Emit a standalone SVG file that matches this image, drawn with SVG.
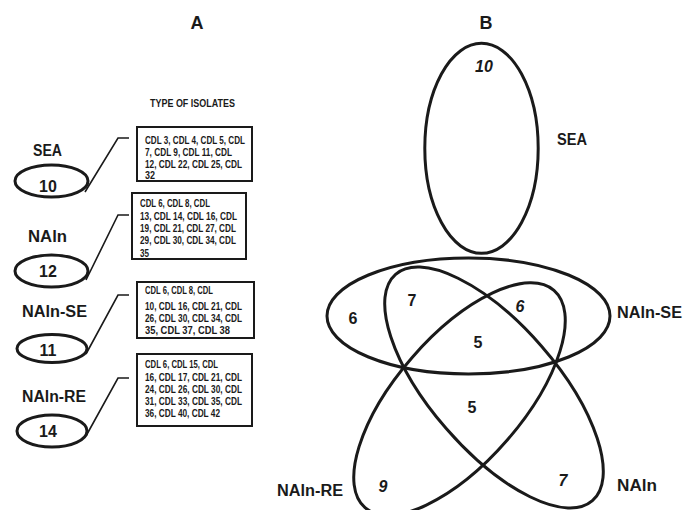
<svg xmlns="http://www.w3.org/2000/svg" width="684" height="510" viewBox="0 0 684 510">
<style>
.t{font-family:"Liberation Sans",Arial,sans-serif;font-weight:bold;fill:#1a1a1a}
.lbl{font-size:16px}
.num{font-size:16px;text-anchor:middle}
.it{font-style:italic}
.ttl{font-size:18px;text-anchor:middle}
.sm{font-size:11px}
.box{fill:#fff;stroke:#1a1a1a;stroke-width:2}
.ell{fill:none;stroke:#1a1a1a;stroke-width:3}
.conn{fill:none;stroke:#1a1a1a;stroke-width:1.6}
</style>
<rect width="684" height="510" fill="#fff"/>
<text class="t ttl" x="197" y="29">A</text>
<text class="t ttl" x="486" y="29">B</text>
<text class="t sm" x="150" y="107" textLength="85" lengthAdjust="spacingAndGlyphs">TYPE OF ISOLATES</text>

<g id="connectors">
<polyline class="conn" points="85,192 118,138 129,138"/>
<polyline class="conn" points="86,280 118,215 129,215"/>
<polyline class="conn" points="86,354 118,295 129,295"/>
<polyline class="conn" points="86,436 118,378 129,378"/>
</g>

<g id="node-sea-left">
<text class="t lbl" x="33" y="156" textLength="29" lengthAdjust="spacingAndGlyphs">SEA</text>
<ellipse class="ell" cx="51.5" cy="181" rx="36.5" ry="16"/>
<text class="t num" x="48" y="192">10</text>
</g>
<g id="node-naln-left">
<text class="t lbl" x="28" y="242" textLength="39" lengthAdjust="spacingAndGlyphs">NAln</text>
<ellipse class="ell" cx="51.5" cy="271" rx="36.5" ry="16"/>
<text class="t num" x="48" y="277">12</text>
</g>
<g id="node-nalnse-left">
<text class="t lbl" x="22" y="317" textLength="65" lengthAdjust="spacingAndGlyphs">NAln-SE</text>
<ellipse class="ell" cx="52" cy="348.5" rx="35" ry="14"/>
<text class="t num" x="48" y="356">11</text>
</g>
<g id="node-nalnre-left">
<text class="t lbl" x="22" y="402" textLength="64" lengthAdjust="spacingAndGlyphs">NAln-RE</text>
<ellipse class="ell" cx="52" cy="431" rx="35" ry="16"/>
<text class="t num" x="48" y="437">14</text>
</g>

<g id="box-sea">
<rect class="box" x="137" y="127" width="115" height="54"/>
<text class="t sm" x="145" y="144" textLength="100" lengthAdjust="spacingAndGlyphs">CDL 3, CDL 4, CDL 5, CDL</text>
<text class="t sm" x="145" y="156" textLength="87" lengthAdjust="spacingAndGlyphs">7, CDL 9, CDL 11, CDL</text>
<text class="t sm" x="145" y="168" textLength="97" lengthAdjust="spacingAndGlyphs">12, CDL 22, CDL 25, CDL</text>
<text class="t sm" x="145" y="179" textLength="10" lengthAdjust="spacingAndGlyphs">32</text>
</g>
<g id="box-naln">
<rect class="box" x="132" y="193" width="114" height="66"/>
<text class="t sm" x="140" y="207" textLength="70" lengthAdjust="spacingAndGlyphs">CDL 6, CDL 8, CDL</text>
<text class="t sm" x="140" y="220" textLength="97" lengthAdjust="spacingAndGlyphs">13, CDL 14, CDL 16, CDL</text>
<text class="t sm" x="140" y="232" textLength="96" lengthAdjust="spacingAndGlyphs">19, CDL 21, CDL 27, CDL</text>
<text class="t sm" x="140" y="244" textLength="96" lengthAdjust="spacingAndGlyphs">29, CDL 30, CDL 34, CDL</text>
<text class="t sm" x="140" y="257" textLength="9" lengthAdjust="spacingAndGlyphs">35</text>
</g>
<g id="box-nalnse">
<rect class="box" x="137" y="282" width="117" height="56"/>
<text class="t sm" x="145" y="294" textLength="68" lengthAdjust="spacingAndGlyphs">CDL 6, CDL 8, CDL</text>
<text class="t sm" x="145" y="309.5" textLength="97" lengthAdjust="spacingAndGlyphs">10, CDL 16, CDL 21, CDL</text>
<text class="t sm" x="145" y="322" textLength="97" lengthAdjust="spacingAndGlyphs">26, CDL 30, CDL 34, CDL</text>
<text class="t sm" x="145" y="334" textLength="85" lengthAdjust="spacingAndGlyphs">35, CDL 37, CDL 38</text>
</g>
<g id="box-nalnre">
<rect class="box" x="137" y="354" width="115" height="72"/>
<text class="t sm" x="145" y="368" textLength="73" lengthAdjust="spacingAndGlyphs">CDL 6, CDL 15, CDL</text>
<text class="t sm" x="145" y="380.5" textLength="97" lengthAdjust="spacingAndGlyphs">16, CDL 17, CDL 21, CDL</text>
<text class="t sm" x="145" y="393" textLength="97" lengthAdjust="spacingAndGlyphs">24, CDL 26, CDL 30, CDL</text>
<text class="t sm" x="145" y="404.5" textLength="97" lengthAdjust="spacingAndGlyphs">31, CDL 33, CDL 35, CDL</text>
<text class="t sm" x="145" y="417" textLength="75" lengthAdjust="spacingAndGlyphs">36, CDL 40, CDL 42</text>
</g>

<g id="venn-sea">
<ellipse class="ell" cx="481.5" cy="148.3" rx="56.7" ry="105"/>
<text class="t lbl" x="557" y="145" textLength="30" lengthAdjust="spacingAndGlyphs">SEA</text>
</g>
<g id="venn-nalnse">
<ellipse class="ell" cx="468.5" cy="316" rx="141.5" ry="58"/>
<text class="t lbl" x="617" y="318" textLength="65" lengthAdjust="spacingAndGlyphs">NAln-SE</text>
</g>
<g id="venn-naln">
<ellipse class="ell" cx="0" cy="0" rx="150" ry="63" transform="translate(494 387.5) rotate(49)"/>
<text class="t lbl" x="617" y="491" textLength="40" lengthAdjust="spacingAndGlyphs">NAln</text>
</g>
<g id="venn-nalnre">
<ellipse class="ell" cx="0" cy="0" rx="144" ry="63" transform="translate(459.5 399) rotate(-49)"/>
<text class="t lbl" x="277" y="496" textLength="66" lengthAdjust="spacingAndGlyphs">NAln-RE</text>
</g>
<g id="venn-counts">
<text class="t num it" x="484" y="72">10</text>
<text class="t num" x="353" y="324">6</text>
<text class="t num" x="412" y="306">7</text>
<text class="t num it" x="520" y="312">6</text>
<text class="t num" x="478" y="348">5</text>
<text class="t num" x="472" y="413">5</text>
<text class="t num it" x="383" y="492">9</text>
<text class="t num it" x="563" y="486">7</text>
</g>
</svg>
